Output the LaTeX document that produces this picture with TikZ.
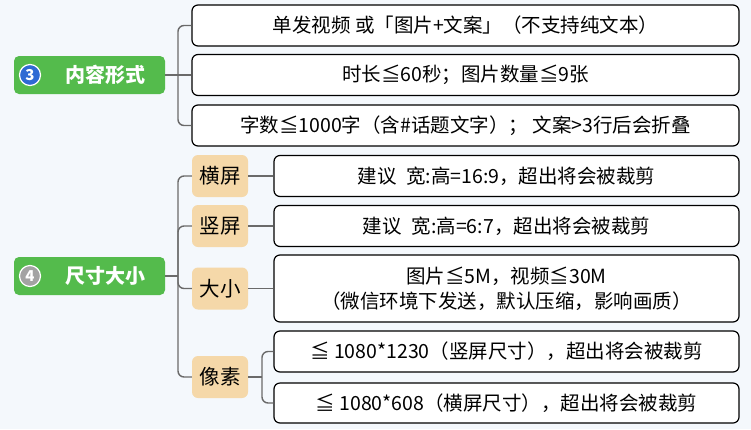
\documentclass[tikz,border=0pt]{standalone}
\usepackage{fontspec}
\setmainfont{Noto Sans CJK SC}
\definecolor{bgpaper}{HTML}{F4F8FC}
\definecolor{topicgreen}{HTML}{54BB4C}
\definecolor{tagorange}{HTML}{F5D8A9}
\definecolor{numblue}{HTML}{2F6AD4}
\definecolor{numgray}{HTML}{A3A3A3}
\definecolor{linegray}{HTML}{6A6A6A}
\tikzset{
  topic/.style={fill=topicgreen, rounded corners=5pt, minimum width=151pt, minimum height=38pt,
    inner sep=0pt, text=white, font=\fontsize{20}{24}\selectfont\bfseries},
  numdot/.style={circle, draw=white, line width=1.2pt, minimum size=21pt, inner sep=0pt,
    text=white, font=\fontsize{15}{15}\selectfont\bfseries},
  tag/.style={fill=tagorange, rounded corners=6pt, minimum width=56pt, minimum height=42pt,
    inner sep=0pt, font=\fontsize{20.5}{24}\selectfont},
  leaf/.style={draw=black, line width=1.2pt, fill=white, rounded corners=6pt, minimum height=41pt,
    inner sep=0pt, align=center, font=\fontsize{19.5}{25}\selectfont},
  branch/.style={draw=linegray, line width=1.4pt, rounded corners=6pt},
}
\begin{document}
\begin{tikzpicture}[x=1pt,y=-1pt]
  \fill[bgpaper] (0,0) rectangle (751,429);
  \useasboundingbox (0,0) rectangle (751,429);
  % 内容形式
  \node[topic] (form) at (89.5,75) {\hspace{31pt}内容形式};
  \node[numdot, fill=numblue] (num3) at (30,75) {3};
  \node[leaf, minimum width=547pt] (c1) at (465.5,25.5) {单发视频 或「图片+文案」（不支持纯文本）};
  \node[leaf, minimum width=547pt] (c2) at (465.5,75) {时长≦60秒；图片数量≦9张};
  \node[leaf, minimum width=547pt] (c3) at (465.5,125.5) {字数≦1000字（含\#话题文字）； 文案>3行后会折叠};
  \coordinate (j1) at (178,75);
  \draw[branch] (c1.west) -| (j1) |- (c3.west);
  \draw[branch] (form.east) -- (c2.west);
  % 尺寸大小
  \node[topic] (size) at (89.5,276) {\hspace{31pt}尺寸大小};
  \node[numdot, fill=numgray] (num4) at (30,276) {4};
  \node[tag] (t1) at (220,176) {横屏};
  \node[tag] (t2) at (220,226) {竖屏};
  \node[tag] (t3) at (220,288.5) {大小};
  \node[tag] (t4) at (220,377) {像素};
  \node[leaf, minimum width=465pt] (d1) at (506.5,176) {建议\hspace{0.5em}宽:高=16:9，超出将会被裁剪};
  \node[leaf, minimum width=465pt] (d2) at (506.5,226) {建议\hspace{0.5em}宽:高=6:7，超出将会被裁剪};
  \node[leaf, minimum width=465pt, minimum height=67pt] (d3) at (506.5,288.5)
    {图片≦5M，视频≦30M\\（微信环境下发送，默认压缩，影响画质）};
  \node[leaf, minimum width=465pt] (p1) at (506.5,351.5) {≦ 1080*1230（竖屏尺寸），超出将会被裁剪};
  \node[leaf, minimum width=465pt, minimum height=40pt] (p2) at (506.5,403) {≦ 1080*608（横屏尺寸），超出将会被裁剪};
  \coordinate (j2) at (178,276);
  \draw[branch] (t1.west) -| (j2) |- (t4.west);
  \draw[branch] (size.east) -- (j2);
  \draw[branch] (j2) |- (t2.west);
  \draw[branch] (j2) |- (t3.west);
  \draw[branch] (t1.east) -- (d1.west);
  \draw[branch] (t2.east) -- (d2.west);
  \draw[branch] (t3.east) -- (d3.west);
  \coordinate (j3) at (262,377);
  \draw[branch] (t4.east) -- (j3);
  \draw[branch] (p1.west) -| (j3) |- (p2.west);
\end{tikzpicture}
\end{document}
